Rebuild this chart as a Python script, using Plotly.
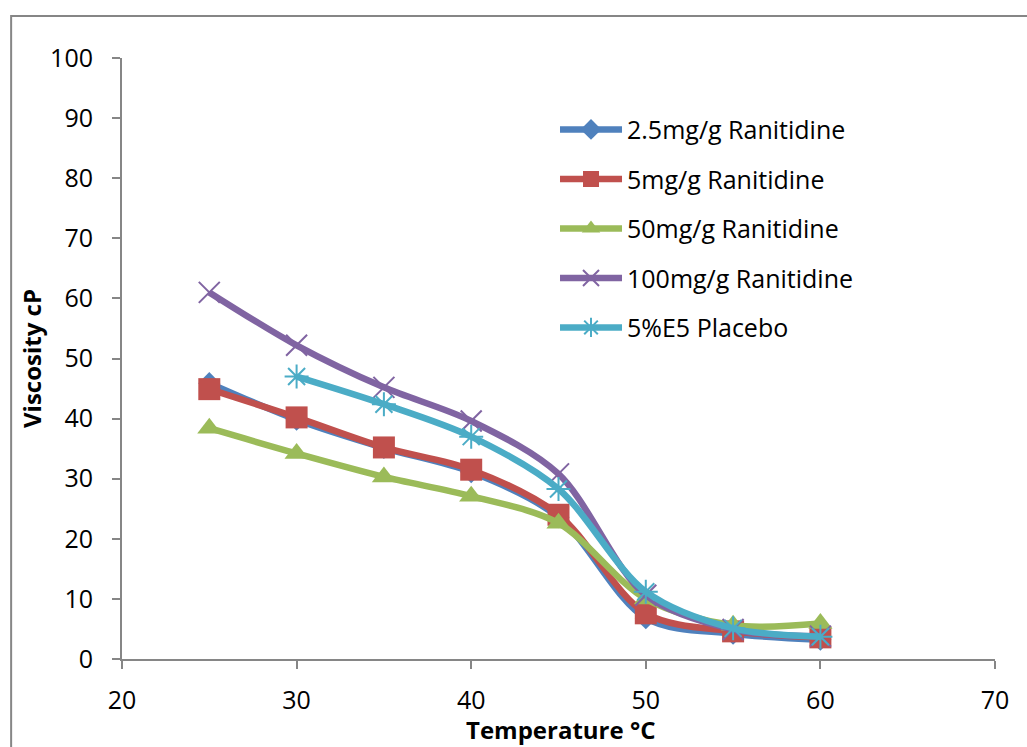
import plotly.graph_objects as go

temps = [25, 30, 35, 40, 45, 50, 55, 60]
temps_placebo = [30, 35, 40, 45, 50, 55, 60]

visc_2_5 = [45.9, 39.8, 35.1, 31.1, 23.6, 6.8, 4.2, 3.2]
visc_5 = [44.9, 40.2, 35.2, 31.5, 24.0, 7.6, 4.6, 3.6]
visc_50 = [38.4, 34.2, 30.3, 27.1, 22.6, 10.0, 5.6, 5.9]
visc_100 = [61.0, 52.2, 45.2, 39.6, 30.8, 10.6, 4.9, 3.8]
visc_placebo = [47.0, 42.4, 37.0, 28.3, 11.2, 5.1, 3.7]

names = ["2.5mg/g Ranitidine", "5mg/g Ranitidine", "50mg/g Ranitidine",
         "100mg/g Ranitidine", "5%E5 Placebo"]
colors = ["#4F81BD", "#C0504D", "#9BBB59", "#8064A2", "#4BACC6"]
x_title = "Temperature °C"
y_title = "Viscosity cP"

FONT = "Open Sans"

series = [
    (temps, visc_2_5, dict(symbol="diamond", size=17, color=colors[0])),
    (temps, visc_5, dict(symbol="square", size=22, color=colors[1])),
    (temps, visc_50, dict(symbol="triangle-up", size=21, color=colors[2])),
    (temps, visc_100, dict(symbol="x-thin", size=21, color=colors[3],
                           line=dict(color=colors[3], width=2))),
    (temps_placebo, visc_placebo, dict(symbol="asterisk", size=20, color=colors[4],
                                       line=dict(color=colors[4], width=2))),
]

fig = go.Figure()
for i, (xs, ys, mk) in enumerate(series):
    fig.add_trace(go.Scatter(
        x=xs, y=ys, name=names[i], mode="lines+markers",
        line=dict(color=colors[i], width=6.5, shape="spline", smoothing=0.9),
        marker=mk, legendgroup=f"g{i}",
    ))

axis_common = dict(
    showline=True, linecolor="#868686", linewidth=2, showgrid=False, zeroline=False,
    ticks="outside", ticklen=8, tickwidth=2, tickcolor="#868686",
    tickfont=dict(family=FONT, size=25, color="black"),
    automargin=False,
)

fig.update_layout(
    width=1027, height=747, autosize=False,
    margin=dict(l=122, r=32, t=58, b=88),
    paper_bgcolor="white", plot_bgcolor="white",
    xaxis=dict(range=[20, 70], dtick=10, ticklabelstandoff=10, **axis_common),
    yaxis=dict(range=[0, 100], dtick=10, ticklabelstandoff=14,
               title=dict(text=f"<b>{y_title}</b>", font=dict(family=FONT, size=24, color="black"),
                          standoff=2),
               **axis_common),
    legend=dict(x=0.496, y=0.919, xanchor="left", yanchor="top",
                font=dict(family=FONT, size=25, color="black"),
                itemwidth=62,
                tracegroupgap=14, bgcolor="rgba(0,0,0,0)"),
    showlegend=True,
    annotations=[dict(text=f"<b>{x_title}</b>", xref="paper", yref="paper",
                      x=0.502, y=-0.118, xanchor="center", yanchor="middle", showarrow=False,
                      borderpad=0,
                      font=dict(family=FONT, size=24, color="black"))],
    shapes=[dict(type="rect", xref="paper", yref="paper",
                 x0=-0.127, x1=1.5, y0=-1, y1=1.07,
                 line=dict(color="#868686", width=2), fillcolor="rgba(0,0,0,0)", layer="below")],
)

fig.write_html("out.html")
